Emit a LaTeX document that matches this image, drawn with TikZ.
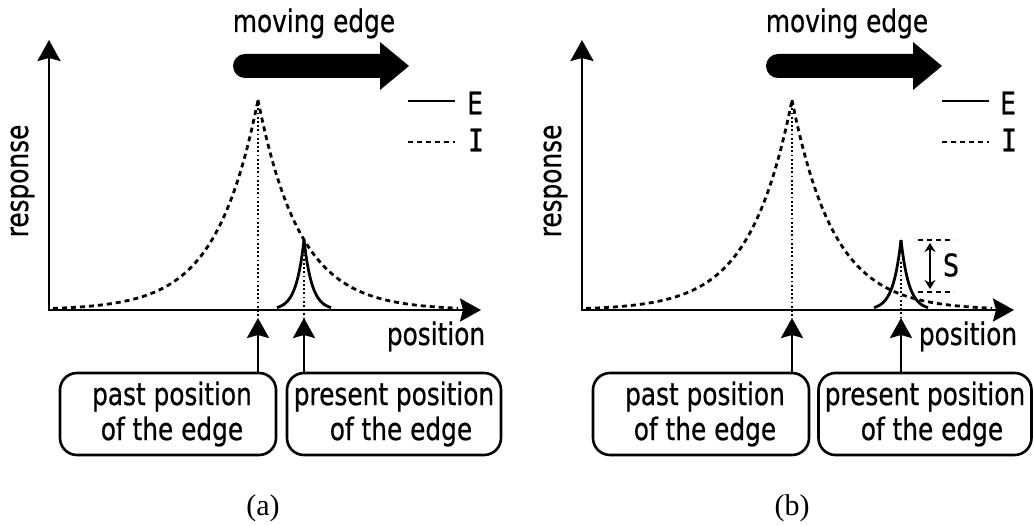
\documentclass[tikz,border=0pt]{standalone}
\usepackage{fontspec}
\usetikzlibrary{arrows.meta}
\newfontfamily\lab[FakeStretch=0.8,FakeBold=0.6]{DejaVu Sans}
\newfontfamily\labmono[FakeStretch=0.85,FakeBold=0.6]{DejaVu Sans Mono}
\newfontfamily\capfont{Liberation Serif}
\tikzset{
  txt/.style={font=\lab\fontsize{31}{35}\selectfont, inner sep=0pt},
  axis/.style={line width=2.8pt, {Stealth[length=21pt,width=23pt,inset=3pt]}-{Stealth[length=21pt,width=23pt,inset=3pt]}},
  curveE/.style={line width=2.8pt},
  curveI/.style={line width=2.8pt, dash pattern=on 5pt off 4pt},
  guide/.style={line width=2.2pt, dash pattern=on 1.8pt off 2.4pt},
  uparrow/.style={line width=2.8pt, -{Stealth[length=20pt,width=22pt,inset=3pt]}},
  posbox/.style={draw, line width=2.6pt, rounded corners=17pt, minimum height=82pt, inner sep=0pt, align=center, font=\lab\fontsize{31}{35}\selectfont},
  sarrow/.style={line width=2pt, {Stealth[length=9pt,width=11pt]}-{Stealth[length=9pt,width=11pt]}},
  sdash/.style={line width=2.6pt, dash pattern=on 5pt off 4pt},
  caption/.style={font=\capfont\fontsize{30}{32}\selectfont, inner sep=0pt, anchor=base}
}
\begin{document}
\begin{tikzpicture}[x=1pt,y=-1pt]
\useasboundingbox (0,0) rectangle (1034,526);
% ================= panel (a) =================
\coordinate (oA) at (49,310);
\coordinate (yA) at (49,40);
\coordinate (xA) at (481,310);
\draw[axis] (yA) -- (oA) -- (xA);
\node[txt, rotate=90, anchor=base] (respA) at (28,181) {response};
\node[txt, anchor=base] (posA) at (436,345) {position};
\node[txt, anchor=base] (movA) at (314,32) {moving edge};
% big arrow
\fill (380,54) -- (245,54) arc[start angle=-90, end angle=-270, radius=12] -- (380,78) -- (380,90) -- (409,66) -- (380,42) -- cycle;
% legend
\coordinate (lEa1) at (408,101); \coordinate (lEa2) at (455,101);
\coordinate (lIa1) at (408,142); \coordinate (lIa2) at (455,142);
\draw[curveE] (lEa1) -- (lEa2);
\draw[curveI] (lIa1) -- (lIa2);
\node[txt] (EA) at (475,103) {E};
\node[font=\labmono\fontsize{31}{35}\selectfont, inner sep=0pt] (IA) at (476,140) {I};
% I curve
\draw[curveI] plot[domain=53:258, samples=160] (\x,{310-210*exp(-abs(\x-258)/42)});
\draw[curveI] plot[domain=258:458, samples=160] (\x,{310-210*exp(-abs(\x-258)/42)});
% E curve
\draw[curveE] plot[domain=277:304, samples=80] (\x,{310-70*exp(-abs(\x-304)/8)});
\draw[curveE] plot[domain=304:331, samples=80] (\x,{310-70*exp(-abs(\x-304)/8)});
% guides
\coordinate (pkIA) at (258,100);
\coordinate (pkEA) at (304,242);
\coordinate (pA) at (258,318);
\coordinate (qA) at (304,318);
\draw[guide] (pkIA) -- (pA);
\draw[guide] (pkEA) -- (qA);
% boxes
\node[posbox, minimum width=216pt] (pastA) at (168,414) {\hspace*{8pt}past position\\\hspace*{8pt}of the edge};
\node[posbox, minimum width=214pt] (presA) at (394,414) {present position\\\hspace*{14pt}of the edge};
\draw[uparrow] (pA |- pastA.north) -- (pA);
\draw[uparrow] (qA |- presA.north) -- (qA);
\node[caption] (capA) at (263,515) {(a)};
% ================= panel (b) =================
\coordinate (oB) at (582,310);
\coordinate (yB) at (582,40);
\coordinate (xB) at (1014,310);
\draw[axis] (yB) -- (oB) -- (xB);
\node[txt, rotate=90, anchor=base] (respB) at (561,181) {response};
\node[txt, anchor=base] (posB) at (968,345) {position};
\node[txt, anchor=base] (movB) at (847,32) {moving edge};
\fill (913,54) -- (778,54) arc[start angle=-90, end angle=-270, radius=12] -- (913,78) -- (913,90) -- (942,66) -- (913,42) -- cycle;
\coordinate (lEb1) at (942,101); \coordinate (lEb2) at (989,101);
\coordinate (lIb1) at (942,142); \coordinate (lIb2) at (989,142);
\draw[curveE] (lEb1) -- (lEb2);
\draw[curveI] (lIb1) -- (lIb2);
\node[txt] (EB) at (1008,103) {E};
\node[font=\labmono\fontsize{31}{35}\selectfont, inner sep=0pt] (IB) at (1009,140) {I};
\draw[curveI] plot[domain=586:792, samples=160] (\x,{310-210*exp(-abs(\x-792)/42)});
\draw[curveI] plot[domain=792:992, samples=160] (\x,{310-210*exp(-abs(\x-792)/42)});
\draw[curveE] plot[domain=874:901, samples=80] (\x,{310-70*exp(-abs(\x-901)/8)});
\draw[curveE] plot[domain=901:928, samples=80] (\x,{310-70*exp(-abs(\x-901)/8)});
\coordinate (pkIB) at (792,100);
\coordinate (pkEB) at (901,262);
\coordinate (pB) at (792,318);
\coordinate (qB) at (901,318);
\draw[guide] (pkIB) -- (pB);
\draw[guide] (pkEB) -- (qB);
% S marker
\coordinate (s1) at (918,240); \coordinate (s2) at (954,240);
\coordinate (s3) at (918,292); \coordinate (s4) at (954,292);
\coordinate (sa) at (930,243); \coordinate (sb) at (930,289);
\draw[sdash] (s1) -- (s2);
\draw[sdash] (s3) -- (s4);
\draw[sarrow] (sa) -- (sb);
\node[txt] (SB) at (951,265) {S};
\node[posbox, minimum width=216pt] (pastB) at (701,414) {\hspace*{8pt}past position\\\hspace*{8pt}of the edge};
\node[posbox, minimum width=213pt] (presB) at (925,414) {present position\\\hspace*{14pt}of the edge};
\draw[uparrow] (pB |- pastB.north) -- (pB);
\draw[uparrow] (qB |- presB.north) -- (qB);
\node[caption] (capB) at (792,515) {(b)};
\end{tikzpicture}
\end{document}
